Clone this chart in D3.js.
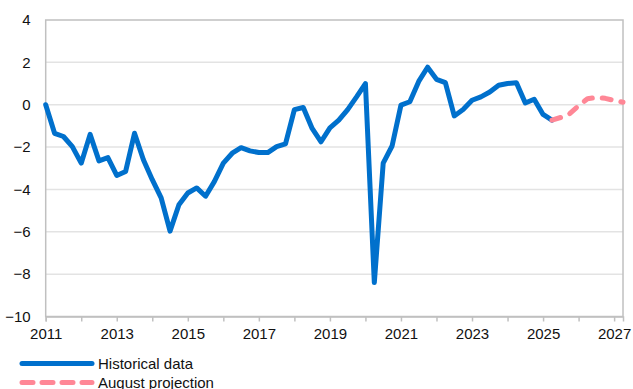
<!DOCTYPE html>
<html><head><meta charset="utf-8">
<script src="https://cdn.jsdelivr.net/npm/d3@7"></script>
<style>body{margin:0;background:#fff;} svg{display:block;font-family:"Liberation Sans",Arial,sans-serif;}</style>
</head><body><svg id="c" width="633" height="389"></svg>
<script>
// Quarterly data, starting 2011Q1
const startYear = 2011;
const historical = [0, -1.35, -1.5, -1.98, -2.76, -1.4, -2.65, -2.5, -3.34, -3.15,
  -1.35, -2.6, -3.54, -4.4, -5.97, -4.72, -4.17, -3.93, -4.32, -3.62,
  -2.76, -2.29, -2.03, -2.18, -2.26, -2.26, -1.98, -1.85, -0.23, -0.13,
  -1.12, -1.75, -1.09, -0.73, -0.23, 0.37, 1.0, -8.4, -2.76, -1.95,
  -0.02, 0.14, 1.1, 1.77, 1.2, 1.04, -0.53, -0.23, 0.21, 0.37,
  0.6, 0.92, 1.0, 1.04, 0.08, 0.26, -0.46, -0.73];
const projStartIndex = 57; // 2025Q2
const projection = [-0.73, -0.6, -0.42, -0.05, 0.28, 0.34, 0.3, 0.2, 0.12];
const yTicks = [4, 2, 0, -2, -4, -6, -8, -10];
const xTickYears = d3.range(2011, 2028);
const xLabelYears = [2011, 2013, 2015, 2017, 2019, 2021, 2023, 2025, 2027];
const seriesNames = ["Historical data", "August projection"];

const svg = d3.select("#c");
const x = d3.scaleLinear().domain([2011, 2027.25]).range([45.7, 623]);
const y = d3.scaleLinear().domain([-10, 4]).range([316.5, 20]);
const blue = "#0070CC", pink = "#FF8796";

// gridlines
svg.append("g").selectAll("line").data(yTicks.filter(d => d > -10 && d < 4)).join("line")
  .attr("x1", x.range()[0]).attr("x2", x.range()[1])
  .attr("y1", d => y(d)).attr("y2", d => y(d))
  .attr("stroke", "#e3e3e3").attr("stroke-width", 1.5);

// frame
svg.append("rect").attr("x", x.range()[0]).attr("y", y.range()[1])
  .attr("width", x.range()[1] - x.range()[0]).attr("height", y.range()[0] - y.range()[1])
  .attr("fill", "none").attr("stroke", "#c0c0c0").attr("stroke-width", 1.5);

// x axis
const xAxis = d3.axisBottom(x).tickValues(xTickYears).tickSize(5)
  .tickFormat(d => xLabelYears.includes(d) ? String(d) : "");
const gx = svg.append("g").attr("transform", `translate(0,${y.range()[0]})`).call(xAxis);
gx.select(".domain").attr("stroke", "#c0c0c0").attr("stroke-width", 1.5);
gx.selectAll(".tick line").attr("stroke", "#c0c0c0").attr("stroke-width", 1.5);
gx.selectAll(".tick text").attr("font-size", 15).attr("fill", "#111").attr("dy", "0.95em")
  .attr("font-family", "Liberation Sans, Arial, sans-serif");

// y axis
const yAxis = d3.axisLeft(y).tickValues(yTicks).tickSize(0).tickPadding(15);
const gy = svg.append("g").attr("transform", `translate(${x.range()[0]},0)`).call(yAxis);
gy.select(".domain").remove();
gy.selectAll(".tick text").attr("font-size", 15).attr("fill", "#111")
  .attr("font-family", "Liberation Sans, Arial, sans-serif");

const qx = i => x(startYear + i / 4);
const line = d3.line().x(d => d.x).y(d => y(d.v));
const histPts = historical.map((v, i) => ({x: qx(i), v}));
const projPts = projection.map((v, i) => ({x: qx(projStartIndex + i), v}));

svg.append("path").attr("d", line(histPts)).attr("fill", "none")
  .attr("stroke", blue).attr("stroke-width", 5).attr("stroke-linejoin", "round").attr("stroke-linecap", "round");
svg.append("path").attr("d", line(projPts)).attr("fill", "none")
  .attr("stroke", pink).attr("stroke-width", 5).attr("stroke-dasharray", "9,10")
  .attr("stroke-linejoin", "round").attr("stroke-linecap", "round");

// legend
const lg = svg.append("g");
lg.append("line").attr("x1", 22).attr("x2", 92).attr("y1", 363.5).attr("y2", 363.5)
  .attr("stroke", blue).attr("stroke-width", 5).attr("stroke-linecap", "round");
lg.append("line").attr("x1", 22).attr("x2", 92).attr("y1", 382.5).attr("y2", 382.5)
  .attr("stroke", pink).attr("stroke-width", 5).attr("stroke-dasharray", "11,9").attr("stroke-linecap", "round");
lg.selectAll("text").data(seriesNames).join("text")
  .attr("x", 98).attr("y", (d, i) => 363.5 + i * 19).attr("dy", "0.35em")
  .attr("font-size", 15).attr("fill", "#111").text(d => d);
</script></body></html>
